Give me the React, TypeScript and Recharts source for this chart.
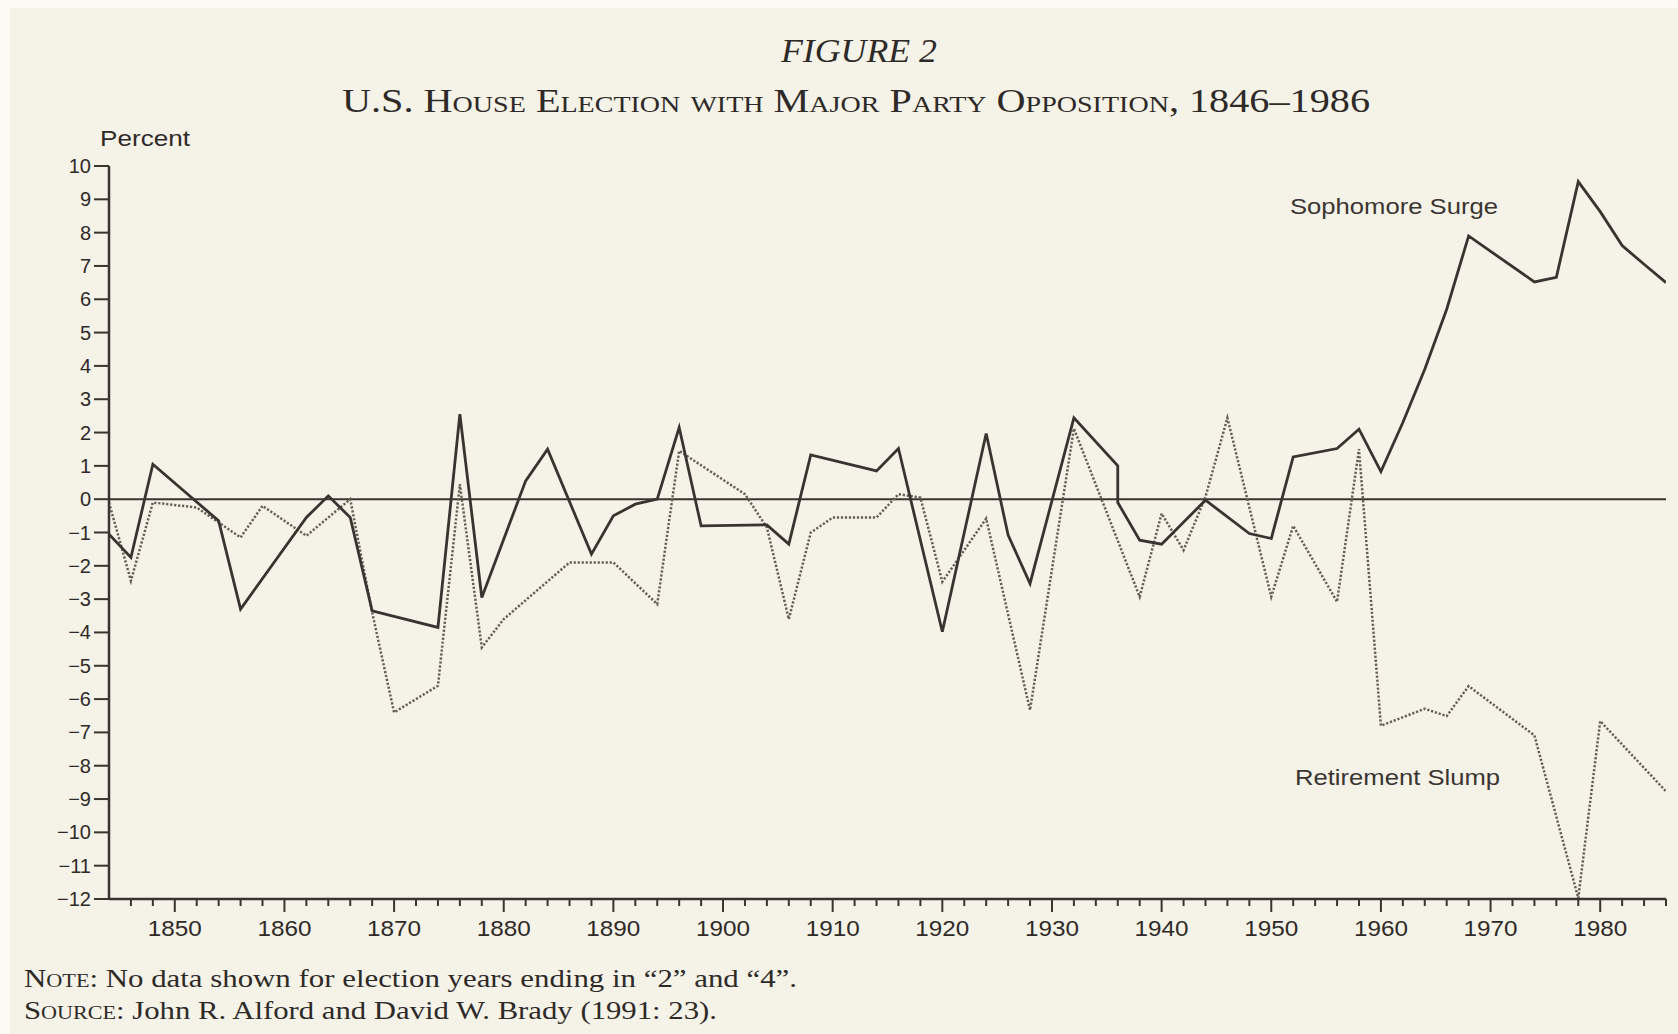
import React from 'react';
import { LineChart, Line, XAxis, YAxis, ReferenceLine } from 'recharts';

// election years with a visible vertex on each line
const surgeYears = [1844, 1846, 1848, 1854, 1856, 1862, 1864, 1866, 1868, 1874, 1876, 1878, 1882, 1884, 1888, 1890, 1892, 1894, 1896, 1898, 1904, 1906, 1908, 1914, 1916, 1920, 1924, 1926, 1928, 1932, 1936, 1936, 1938, 1940, 1944, 1948, 1950, 1952, 1956, 1958, 1960, 1962, 1964, 1966, 1968, 1974, 1976, 1978, 1980, 1982, 1984, 1986];
const surgeValues = [-1.05, -1.75, 1.05, -0.65, -3.3, -0.55, 0.1, -0.55, -3.35, -3.85, 2.55, -2.95, 0.55, 1.5, -1.65, -0.5, -0.15, 0.0, 2.15, -0.8, -0.77, -1.35, 1.33, 0.85, 1.52, -3.98, 1.97, -1.08, -2.53, 2.44, 1.0, -0.1, -1.23, -1.35, -0.03, -1.03, -1.18, 1.27, 1.52, 2.1, 0.83, 2.3, 3.9, 5.7, 7.9, 6.52, 6.66, 9.53, 8.63, 7.61, 7.05, 6.5];

const slumpYears = [1844, 1846, 1848, 1852, 1856, 1858, 1862, 1866, 1868, 1870, 1874, 1876, 1878, 1880, 1886, 1890, 1894, 1896, 1902, 1904, 1906, 1908, 1910, 1914, 1916, 1918, 1920, 1924, 1928, 1932, 1938, 1940, 1942, 1944, 1946, 1950, 1952, 1956, 1958, 1960, 1964, 1966, 1968, 1974, 1978, 1980, 1986];
const slumpValues = [-0.1, -2.45, -0.1, -0.25, -1.15, -0.2, -1.1, 0.0, -3.4, -6.4, -5.6, 0.45, -4.45, -3.6, -1.9, -1.9, -3.15, 1.45, 0.15, -0.85, -3.6, -1.0, -0.55, -0.55, 0.15, 0.05, -2.48, -0.58, -6.33, 2.12, -2.93, -0.43, -1.53, 0.07, 2.44, -2.93, -0.8, -3.08, 1.5, -6.8, -6.29, -6.51, -5.61, -7.09, -11.97, -6.66, -8.77];

const yTicks = [-12, -11, -10, -9, -8, -7, -6, -5, -4, -3, -2, -1, 0, 1, 2, 3, 4, 5, 6, 7, 8, 9, 10];
const decadeLabels = [1850, 1860, 1870, 1880, 1890, 1900, 1910, 1920, 1930, 1940, 1950, 1960, 1970, 1980];

const xTicks: number[] = [];
for (let yr = 1846; yr <= 1986; yr += 2) xTicks.push(yr);

const surgeData = surgeYears.map((year, i) => ({ year, value: surgeValues[i] }));
const slumpData = slumpYears.map((year, i) => ({ year, value: slumpValues[i] }));

const ink = '#3a3430';
const paper = '#f5f2e7';
const sans = '"Liberation Sans", Arial, sans-serif';
const serif = '"Liberation Serif", "Times New Roman", serif';

const XTick = (props: any) => {
  const { x, y, payload } = props;
  const yr = payload.value;
  const major = decadeLabels.includes(yr);
  return (
    <g>
      <line x1={x} x2={x} y1={y} y2={y + (major ? 13 : 7)} stroke={ink} strokeWidth={2} />
      {major && (
        <text x={x} y={y + 37} textAnchor="middle" fontFamily={sans} fontSize={22} fill="#2f2a27"
          textLength={54} lengthAdjust="spacingAndGlyphs">
          {yr}
        </text>
      )}
    </g>
  );
};

const YTick = (props: any) => {
  const { x, y, payload } = props;
  const v = payload.value;
  const label = v < 0 ? '\u2212' + Math.abs(v) : String(v);
  return (
    <g>
      <line x1={x - 15} x2={x} y1={y} y2={y} stroke={ink} strokeWidth={2} />
      <text x={x - 18} y={y + 7} textAnchor="end" fontFamily={sans} fontSize={20} fill="#2f2a27">
        {label}
      </text>
    </g>
  );
};

export default function App() {
  return (
    <div style={{ position: 'absolute', left: 0, top: 0, width: 1678, height: 1034, background: '#fbfaf4', overflow: 'hidden' }}>
      <div style={{ position: 'absolute', left: 10, top: 8, width: 1668, height: 1026, background: paper }} />
      <div style={{ position: 'absolute', left: 0, top: 0 }}>
        <LineChart width={1678} height={1034} data={surgeData} margin={{ top: 166, right: 12, bottom: 105, left: 49 }}>
          <XAxis
            type="number"
            dataKey="year"
            domain={[1844, 1986]}
            ticks={xTicks}
            interval={0}
            height={30}
            tickSize={0}
            tickMargin={0}
            tickLine={false}
            axisLine={{ stroke: ink, strokeWidth: 2.5 }}
            tick={<XTick />}
            allowDataOverflow
          />
          <YAxis
            type="number"
            domain={[-12, 10]}
            ticks={yTicks}
            interval={0}
            width={60}
            tickSize={0}
            tickMargin={0}
            tickLine={false}
            axisLine={{ stroke: ink, strokeWidth: 2.5 }}
            tick={<YTick />}
            allowDataOverflow
          />
          <ReferenceLine y={0} stroke={ink} strokeWidth={2} />
          <Line data={slumpData} dataKey="value" type="linear" stroke="#675e56" strokeWidth={2.5}
            strokeDasharray="2.2 1.8" dot={false} activeDot={false} isAnimationActive={false} />
          <Line data={surgeData} dataKey="value" type="linear" stroke={ink} strokeWidth={2.8}
            dot={false} activeDot={false} isAnimationActive={false} />
        </LineChart>
      </div>
      <svg width={1678} height={1034} style={{ position: 'absolute', left: 0, top: 0, pointerEvents: 'none' }}>
        <text x={859} y={62} textAnchor="middle" fontFamily={serif} fontStyle="italic" fontSize={33} fill="#2e2a27"
          textLength={156} lengthAdjust="spacingAndGlyphs">FIGURE 2</text>
        <text x={342} y={112} fontFamily={serif} fontSize={33} fill="#2e2a27" style={{ fontVariant: 'small-caps' }}
          textLength={1028} lengthAdjust="spacingAndGlyphs">U.S. House Election with Major Party Opposition, 1846–1986</text>
        <text x={100} y={146} fontFamily={sans} fontSize={22} fill="#2f2a27" textLength={90} lengthAdjust="spacingAndGlyphs">Percent</text>
        <text x={1290} y={214} fontFamily={sans} fontSize={22} fill="#3a3531" textLength={208} lengthAdjust="spacingAndGlyphs">Sophomore Surge</text>
        <text x={1295} y={785} fontFamily={sans} fontSize={22} fill="#3a3531" textLength={205} lengthAdjust="spacingAndGlyphs">Retirement Slump</text>
        <text x={24} y={987} fontFamily={serif} fontSize={25} fill="#2e2a27" textLength={773} lengthAdjust="spacingAndGlyphs">
          <tspan style={{ fontVariant: 'small-caps' }}>Note:</tspan> No data shown for election years ending in “2” and “4”.
        </text>
        <text x={24} y={1019} fontFamily={serif} fontSize={25} fill="#2e2a27" textLength={693} lengthAdjust="spacingAndGlyphs">
          <tspan style={{ fontVariant: 'small-caps' }}>Source:</tspan> John R. Alford and David W. Brady (1991: 23).
        </text>
      </svg>
    </div>
  );
}
